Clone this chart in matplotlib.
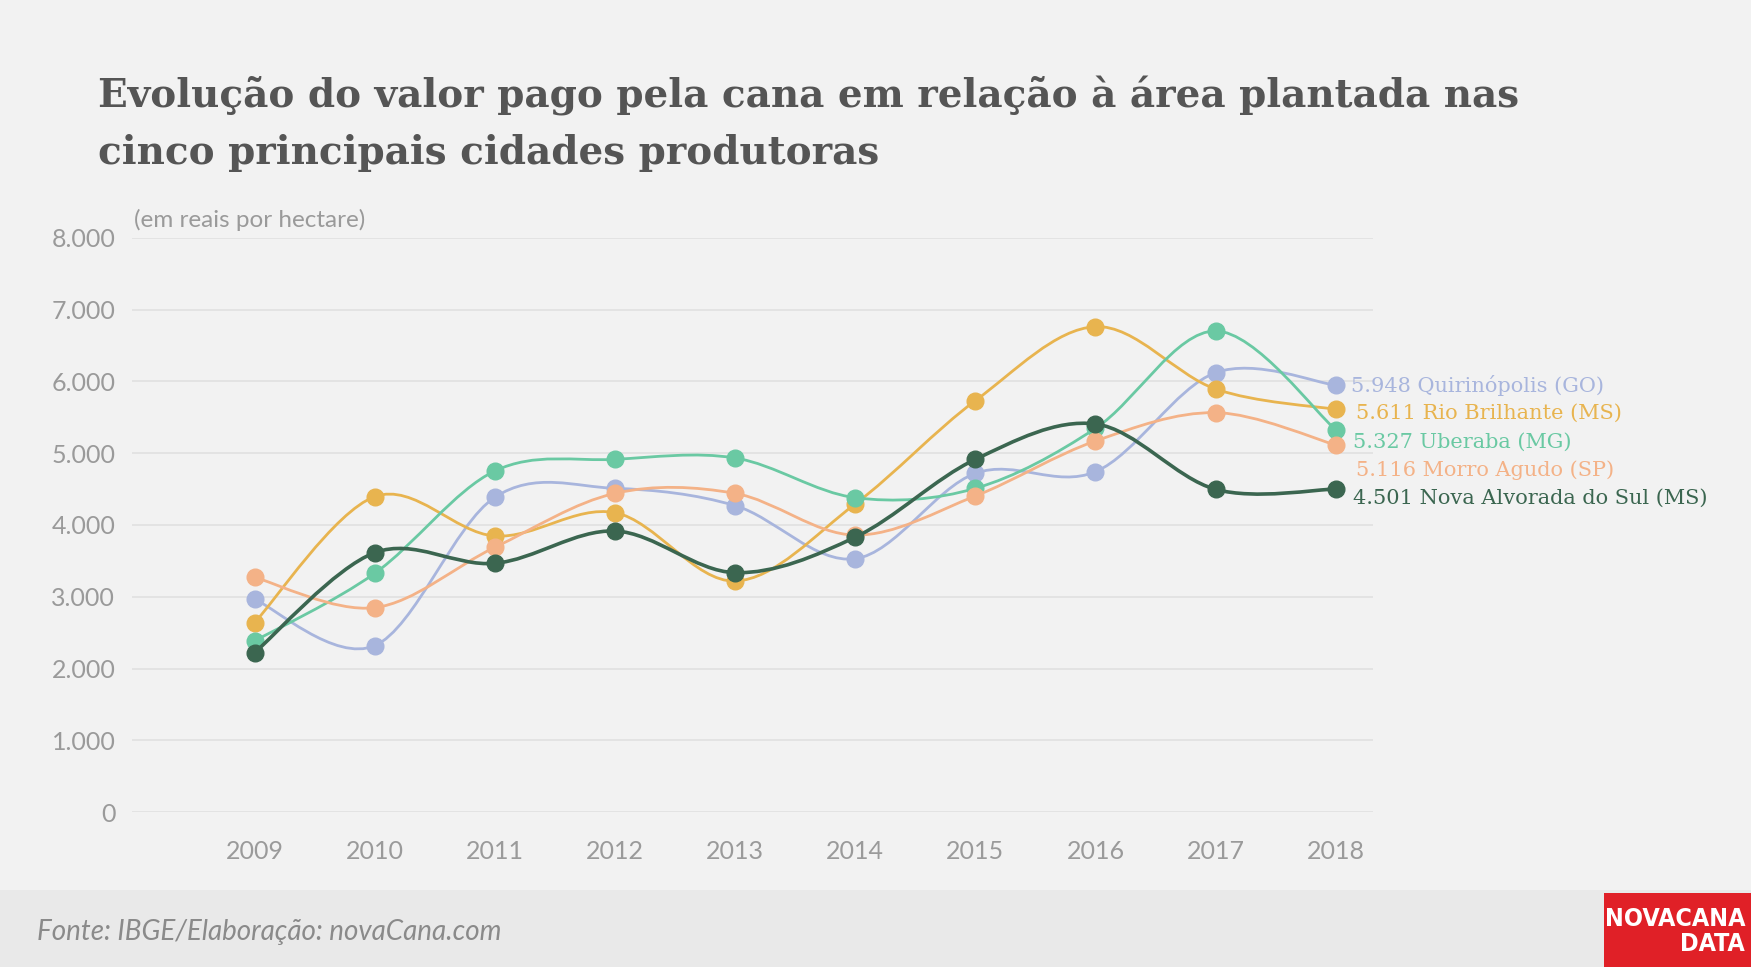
import numpy as np
import matplotlib
matplotlib.use("Agg")
import matplotlib.pyplot as plt
from matplotlib.path import Path
from matplotlib.patches import PathPatch, Rectangle

# data (R$ per hectare)
years = [2009, 2010, 2011, 2012, 2013, 2014, 2015, 2016, 2017, 2018]
quirinopolis = [2964, 2318, 4386, 4511, 4270, 3530, 4720, 4743, 6123, 5948]
rio_brilhante = [2639, 4395, 3847, 4172, 3219, 4293, 5733, 6764, 5895, 5611]
uberaba = [2383, 3326, 4753, 4915, 4934, 4381, 4511, 5347, 6704, 5327]
morro_agudo = [3271, 2848, 3689, 4441, 4441, 3860, 4404, 5171, 5566, 5116]
nova_alvorada = [2221, 3614, 3466, 3916, 3336, 3830, 4915, 5408, 4497, 4501]

names = ["Quirinópolis (GO)", "Rio Brilhante (MS)", "Uberaba (MG)",
         "Morro Agudo (SP)", "Nova Alvorada do Sul (MS)"]
series = [quirinopolis, rio_brilhante, uberaba, morro_agudo, nova_alvorada]
colors = ["#a8b5dd", "#e8b44f", "#6ac9a3", "#f4b287", "#3b6650"]
widths = [2.0, 2.0, 2.0, 2.0, 2.6]
label_y = [385, 413, 442, 470, 498]   # px, where the end labels sit
label_x = [1351, 1356, 1353, 1356, 1353]

W, H = 1751, 967


def fx(px):
    return px / W


def fy(py):
    return 1 - py / H


def spline_path(xs, ys):
    # uniform catmull-rom, written as cubic beziers
    p = np.column_stack([xs, ys]).astype(float)
    p = np.vstack([p[0], p, p[-1]])
    verts = [tuple(p[1])]
    codes = [Path.MOVETO]
    for i in range(1, len(p) - 2):
        p0, p1, p2, p3 = p[i - 1], p[i], p[i + 1], p[i + 2]
        c1 = p1 + (p2 - p0) / 6
        c2 = p2 - (p3 - p1) / 6
        verts += [tuple(c1), tuple(c2), tuple(p2)]
        codes += [Path.CURVE4] * 3
    return Path(verts, codes)


fig = plt.figure(figsize=(W / 100, H / 100), dpi=100, facecolor="#f2f2f2")

# footer band and logo box
fig.patches.append(Rectangle((0, 0), 1, fy(890), transform=fig.transFigure,
                             facecolor="#e9e9e9", edgecolor="none", zorder=0))
fig.patches.append(Rectangle((fx(1604), 0), 1 - fx(1604), fy(893), transform=fig.transFigure,
                             facecolor="#e02027", edgecolor="none", zorder=1))

ax = fig.add_axes([fx(132), fy(812), fx(1373 - 132), (812 - 238) / H])
ax.set_facecolor("#f2f2f2")
ax.set_xlim(2007.98, 2018.31)
ax.set_ylim(0, 8000)
for s in ax.spines.values():
    s.set_visible(False)
ax.set_yticks(range(0, 8001, 1000))
ax.set_yticklabels(["0"] + ["{}.000".format(i) for i in range(1, 9)])
ax.set_xticks(years)
ax.set_xticklabels([str(y) for y in years])
ax.grid(axis="y", color="#e2e2e2", linewidth=1.3)
ax.set_axisbelow(True)
ax.tick_params(length=0, colors="#9a9a9a", labelsize=18)
ax.tick_params(axis="y", pad=12)
ax.tick_params(axis="x", pad=20)
for lab in ax.get_xticklabels() + ax.get_yticklabels():
    lab.set_fontfamily("Lato")

for i, (vals, c, lw) in enumerate(zip(series, colors, widths)):
    patch = PathPatch(spline_path(years, vals), facecolor="none", edgecolor=c,
                      linewidth=lw, zorder=3 + i, clip_on=False)
    ax.add_patch(patch)
    ax.plot(years, vals, "o", color=c, markersize=12, zorder=3 + i, clip_on=False)
    fig.text(fx(label_x[i]), fy(label_y[i]),
             "{:,}".format(vals[-1]).replace(",", ".") + " " + names[i],
             color=c, fontsize=15, family="DejaVu Serif", va="center", ha="left")

fig.text(fx(98), fy(107), "Evolução do valor pago pela cana em relação à área plantada nas",
         fontsize=28, color="#555555", family="DejaVu Serif", weight="bold", va="baseline")
fig.text(fx(98), fy(164), "cinco principais cidades produtoras",
         fontsize=28, color="#555555", family="DejaVu Serif", weight="bold", va="baseline")
fig.text(fx(134), fy(220), "(em reais por hectare)", fontsize=17.5, color="#9a9a9a",
         family="Lato", va="center")

fig.text(fx(37), fy(932), "Fonte: IBGE/Elaboração: novaCana.com", fontsize=20,
         color="#8a8a8a", family="Lato", style="italic", va="center")
fig.text(fx(1745), fy(919), "NOVACANA", fontsize=18, color="white", weight="bold",
         family="DejaVu Sans", stretch="condensed", ha="right", va="center")
fig.text(fx(1745), fy(944), "DATA", fontsize=18, color="white", weight="bold",
         family="DejaVu Sans", stretch="condensed", ha="right", va="center")

fig.savefig("out.png", dpi=100, facecolor=fig.get_facecolor())
